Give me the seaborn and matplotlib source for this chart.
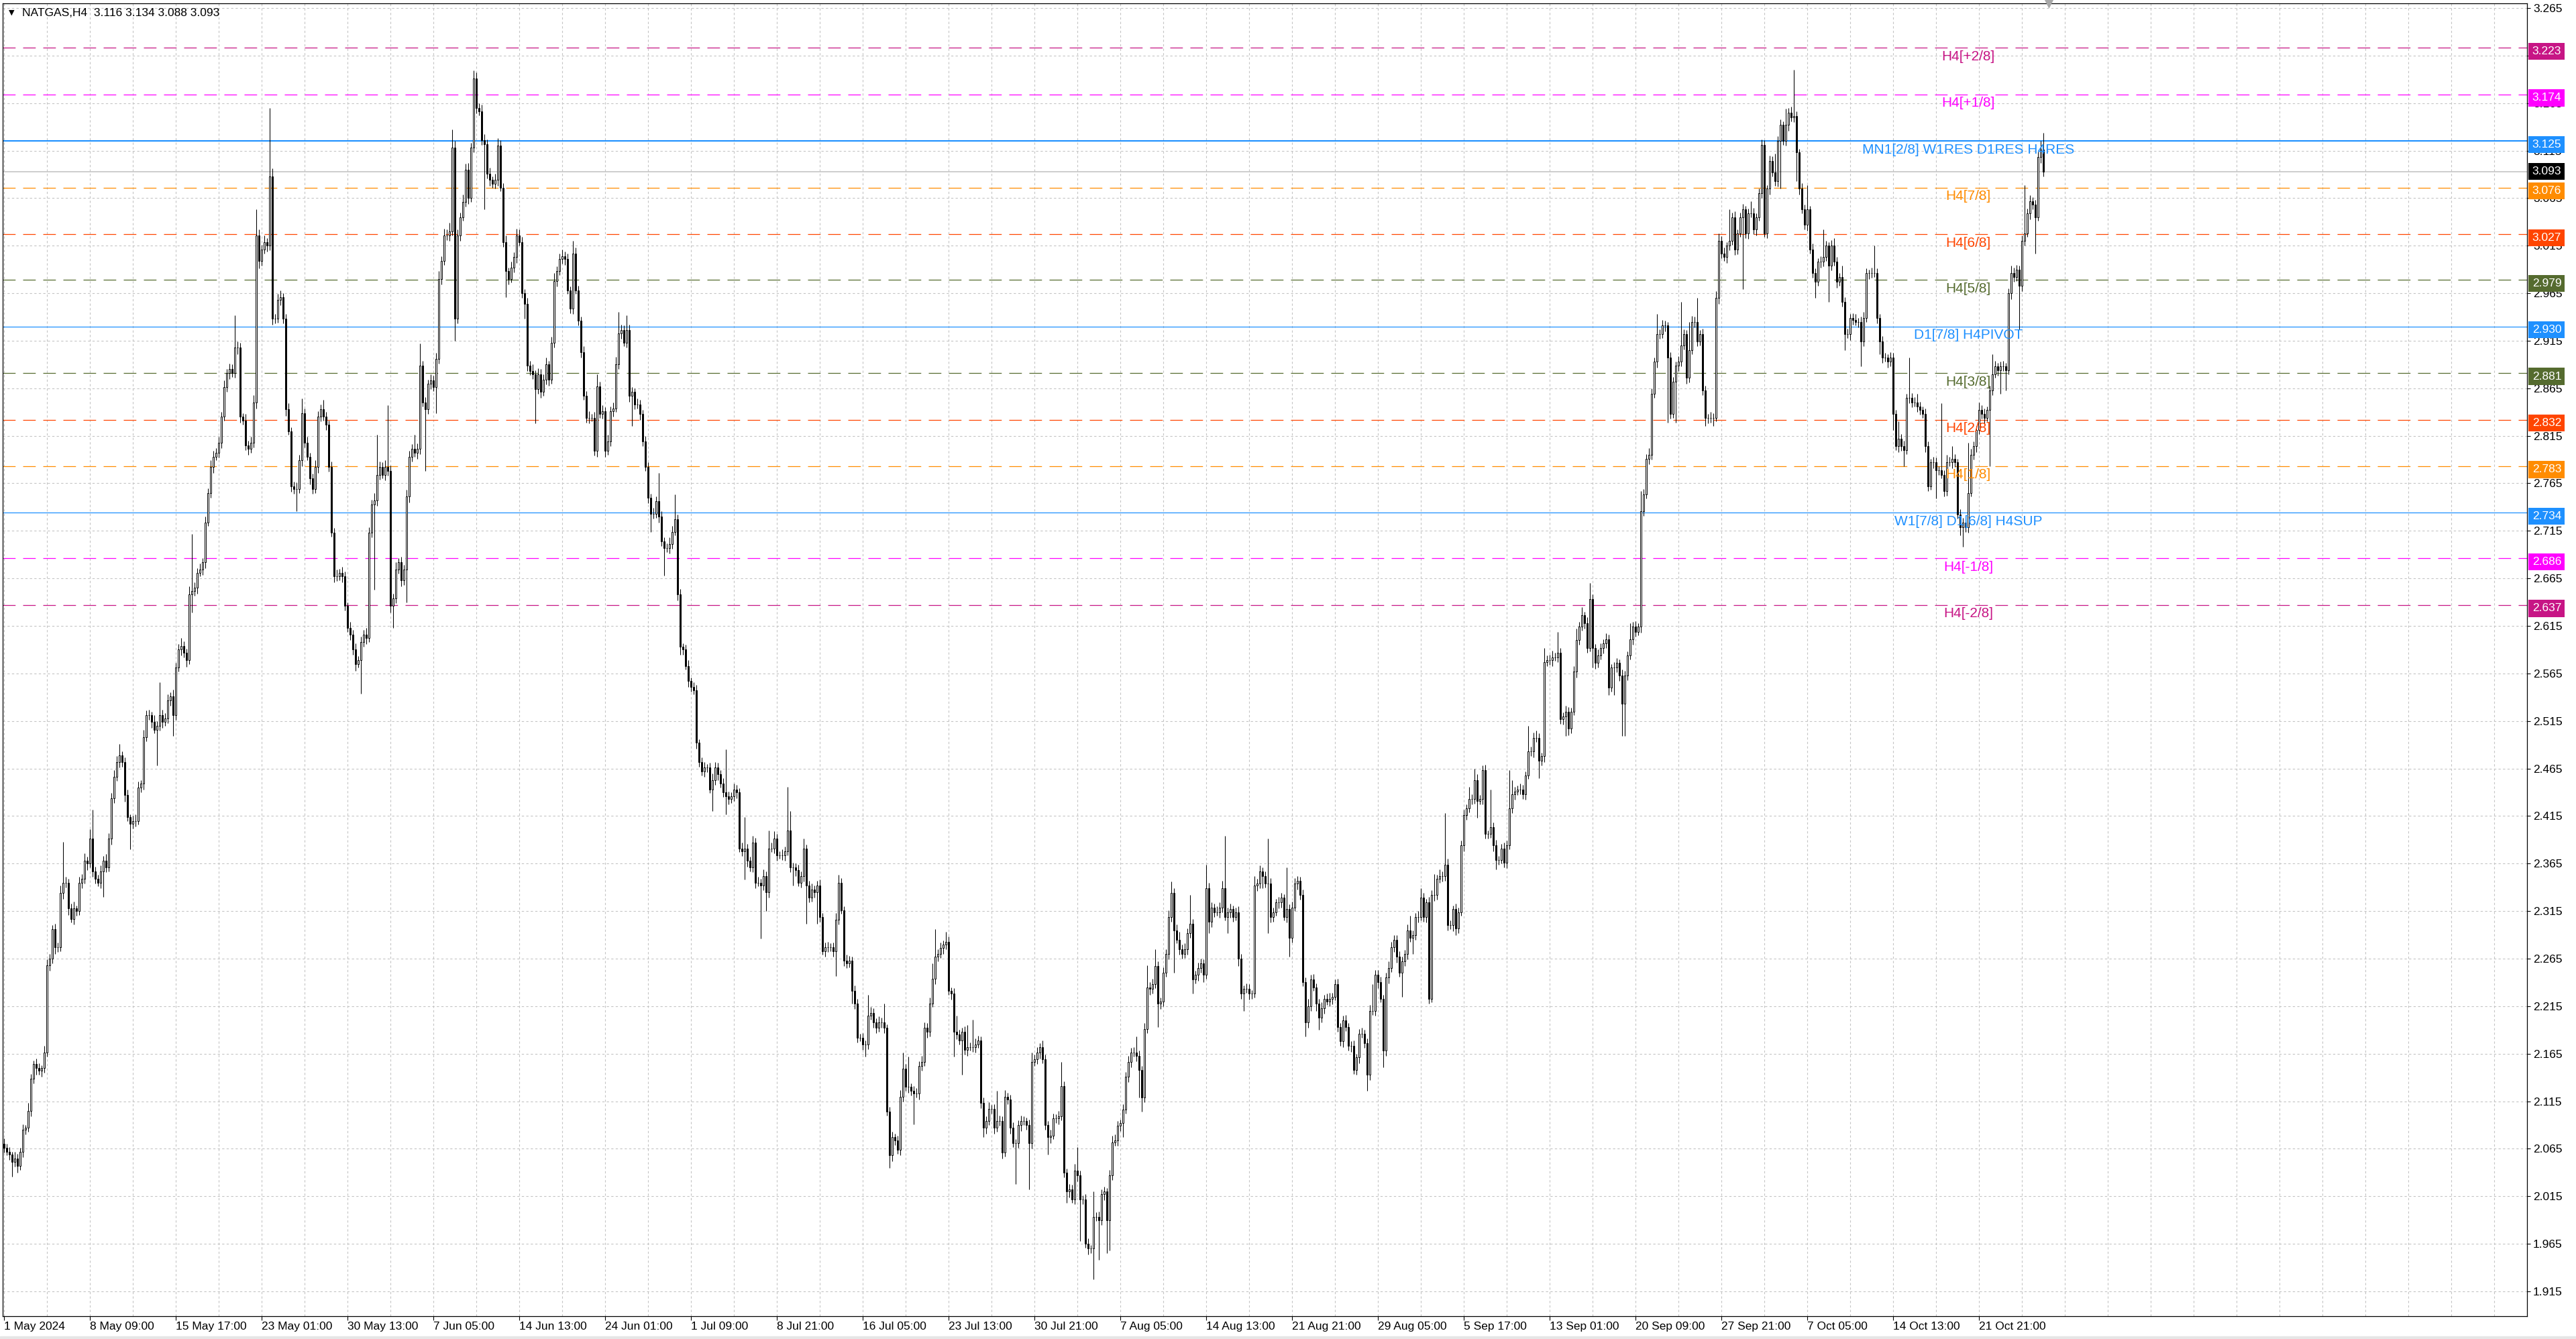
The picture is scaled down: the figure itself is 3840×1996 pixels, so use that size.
import numpy as np
import pandas as pd
import seaborn as sns
import matplotlib.pyplot as plt
import matplotlib.transforms as mtransforms
from matplotlib.patches import Rectangle

# NATGAS H4 closes in thousandths, 1 May 2024 -> 25 Oct 2024 (one value per bar)
close_mils = [
    2066, 2062, 2059, 2051, 2055, 2047, 2062, 2085, 2087, 2105, 2139, 2154, 2150, 2147, 2150, 2166, 2258, 2265, 2296, 2277,
    2277, 2334, 2345, 2345, 2318, 2307, 2318, 2315, 2345, 2349, 2368, 2365, 2391, 2357, 2349, 2345, 2357, 2368, 2361, 2391,
    2434, 2456, 2472, 2479, 2472, 2437, 2414, 2407, 2410, 2410, 2445, 2449, 2498, 2521, 2521, 2514, 2506, 2510, 2521, 2514,
    2518, 2537, 2541, 2521, 2571, 2590, 2594, 2587, 2579, 2648, 2652, 2655, 2671, 2674, 2682, 2724, 2755, 2782, 2793, 2797,
    2808, 2835, 2866, 2881, 2885, 2881, 2908, 2908, 2835, 2831, 2805, 2801, 2808, 2850, 3026, 2999, 3011, 3019, 3015, 3088,
    2938, 2938, 2958, 2961, 2938, 2843, 2820, 2762, 2759, 2759, 2789, 2839, 2808, 2793, 2770, 2759, 2782, 2835, 2843, 2835,
    2827, 2782, 2713, 2667, 2667, 2671, 2667, 2636, 2613, 2606, 2590, 2575, 2579, 2598, 2606, 2602, 2713, 2743, 2747, 2774,
    2782, 2774, 2782, 2778, 2636, 2644, 2674, 2682, 2663, 2674, 2751, 2793, 2801, 2797, 2801, 2889, 2850, 2843, 2870, 2873,
    2866, 2896, 2980, 2999, 3026, 3026, 3030, 3118, 2938, 3026, 3045, 3061, 3095, 3065, 3118, 3191, 3160, 3156, 3126, 3122,
    3091, 3084, 3080, 3084, 3120, 3076, 3019, 2988, 2980, 2992, 3003, 3026, 3019, 2965, 2954, 2889, 2883, 2880, 2864, 2880,
    2861, 2874, 2890, 2874, 2913, 2978, 2988, 3001, 3004, 3001, 2968, 2949, 3007, 2968, 2936, 2903, 2857, 2834, 2834, 2834,
    2799, 2867, 2838, 2841, 2799, 2809, 2841, 2844, 2890, 2923, 2926, 2913, 2926, 2857, 2861, 2848, 2848, 2838, 2809, 2782,
    2750, 2733, 2733, 2746, 2730, 2704, 2697, 2697, 2701, 2714, 2727, 2648, 2593, 2590, 2573, 2557, 2551, 2547, 2492, 2472,
    2462, 2466, 2466, 2443, 2453, 2466, 2459, 2449, 2440, 2436, 2433, 2436, 2443, 2440, 2381, 2378, 2381, 2368, 2361, 2387,
    2345, 2345, 2342, 2352, 2335, 2381, 2381, 2391, 2374, 2374, 2374, 2378, 2400, 2361, 2361, 2358, 2345, 2352, 2381, 2342,
    2329, 2338, 2335, 2342, 2309, 2273, 2277, 2277, 2277, 2273, 2306, 2345, 2316, 2263, 2260, 2263, 2231, 2218, 2182, 2182,
    2175, 2175, 2205, 2208, 2198, 2192, 2198, 2198, 2192, 2104, 2058, 2077, 2074, 2064, 2120, 2149, 2130, 2130, 2126, 2123,
    2123, 2152, 2156, 2192, 2188, 2218, 2244, 2267, 2270, 2276, 2280, 2283, 2231, 2228, 2188, 2185, 2179, 2188, 2169, 2172,
    2172, 2172, 2175, 2179, 2113, 2087, 2094, 2107, 2107, 2087, 2094, 2094, 2061, 2120, 2117, 2087, 2071, 2071, 2090, 2094,
    2094, 2090, 2071, 2156, 2159, 2166, 2172, 2159, 2090, 2077, 2079, 2097, 2097, 2099, 2131, 2040, 2020, 2022, 2012, 2042,
    2037, 2012, 2012, 1965, 1960, 1960, 1993, 1993, 1990, 2017, 2020, 1990, 2037, 2072, 2074, 2089, 2092, 2106, 2141, 2156,
    2166, 2166, 2163, 2148, 2119, 2191, 2235, 2233, 2238, 2257, 2218, 2220, 2250, 2270, 2309, 2334, 2295, 2285, 2275, 2270,
    2275, 2292, 2302, 2243, 2248, 2255, 2260, 2248, 2339, 2304, 2319, 2314, 2314, 2319, 2339, 2309, 2314, 2317, 2309, 2314,
    2265, 2228, 2233, 2233, 2228, 2228, 2342, 2344, 2357, 2352, 2344, 2344, 2309, 2314, 2324, 2324, 2329, 2309, 2317, 2287,
    2319, 2344, 2347, 2332, 2240, 2198, 2215, 2243, 2235, 2218, 2203, 2213, 2223, 2220, 2223, 2225, 2238, 2193, 2178, 2200,
    2193, 2173, 2173, 2148, 2161, 2186, 2186, 2176, 2143, 2210, 2210, 2248, 2240, 2223, 2168, 2245, 2255, 2277, 2285, 2267,
    2250, 2262, 2270, 2295, 2287, 2290, 2309, 2309, 2329, 2309, 2324, 2223, 2332, 2332, 2349, 2352, 2352, 2364, 2300, 2300,
    2317, 2297, 2314, 2384, 2416, 2423, 2433, 2433, 2453, 2431, 2433, 2463, 2396, 2396, 2403, 2384, 2369, 2369, 2381, 2366,
    2384, 2423, 2438, 2441, 2443, 2443, 2438, 2458, 2483, 2483, 2497, 2497, 2473, 2478, 2577, 2579, 2579, 2582, 2582, 2587,
    2517, 2520, 2525, 2507, 2525, 2567, 2600, 2614, 2626, 2618, 2592, 2643, 2592, 2576, 2584, 2592, 2597, 2601, 2550, 2571,
    2571, 2576, 2563, 2533, 2563, 2584, 2601, 2614, 2609, 2614, 2736, 2753, 2791, 2795, 2859, 2893, 2922, 2922, 2931, 2931,
    2897, 2838, 2872, 2889, 2893, 2910, 2922, 2876, 2905, 2935, 2935, 2914, 2922, 2863, 2834, 2834, 2834, 2834, 2960, 3020,
    3007, 3003, 3015, 3020, 3045, 3011, 3028, 3045, 3053, 3028, 3049, 3049, 3032, 3045, 3070, 3121, 3028, 3075, 3104, 3092,
    3083, 3125, 3142, 3125, 3142, 3155, 3150, 3151, 3113, 3075, 3053, 3037, 3053, 3011, 2986, 2977, 2998, 2998, 3003, 3015,
    2994, 3015, 2998, 2977, 2982, 2956, 2922, 2922, 2939, 2937, 2935, 2935, 2914, 2939, 2986, 2986, 2986, 2986, 2939, 2914,
    2897, 2897, 2893, 2897, 2838, 2804, 2812, 2804, 2800, 2855, 2855, 2850, 2850, 2846, 2842, 2838, 2804, 2762, 2787, 2787,
    2779, 2779, 2774, 2757, 2787, 2787, 2791, 2787, 2732, 2719, 2724, 2719, 2755, 2795, 2804, 2821, 2842, 2838, 2834, 2842,
    2863, 2880, 2888, 2884, 2888, 2888, 2884, 2965, 2986, 2982, 2990, 2973, 3020, 3028, 3049, 3062, 3058, 3045, 3108, 3116,
    3093,
]

# upper / lower shadow length of each bar, thousandths
wick_up_mils = [
    6, 4, 5, 3, 7, 5, 4, 6, 3, 8, 5, 4, 6, 5, 3, 7, 6, 5, 4, 6,
    5, 8, 43, 6, 4, 5, 7, 3, 6, 5, 8, 4, 10, 31, 5, 4, 6, 5, 7, 6,
    5, 7, 6, 12, 4, 5, 6, 3, 5, 7, 6, 4, 8, 5, 6, 4, 7, 5, 35, 6,
    5, 6, 4, 7, 5, 6, 8, 5, 4, 9, 60, 6, 5, 7, 4, 6, 5, 7, 6, 5,
    6, 5, 7, 4, 6, 5, 34, 6, 5, 4, 7, 5, 6, 8, 27, 6, 5, 7, 4, 72,
    8, 5, 6, 7, 4, 5, 6, 4, 5, 7, 6, 15, 5, 6, 4, 5, 7, 6, 5, 10,
    5, 4, 6, 5, 7, 4, 6, 5, 4, 6, 5, 7, 4, 6, 5, 7, 6, 5, 8, 42,
    6, 5, 7, 65, 6, 5, 8, 4, 6, 5, 7, 6, 5, 15, 6, 23, 5, 6, 4, 7,
    5, 6, 8, 5, 7, 6, 9, 19, 7, 6, 5, 8, 6, 7, 5, 8, 6, 5, 7, 6,
    5, 6, 4, 7, 8, 6, 5, 7, 4, 6, 5, 7, 6, 5, 4, 6, 5, 7, 4, 6,
    5, 6, 7, 4, 6, 8, 5, 6, 7, 5, 6, 4, 13, 6, 5, 4, 6, 5, 7, 4,
    6, 13, 5, 6, 4, 7, 5, 6, 8, 22, 6, 5, 16, 6, 5, 4, 6, 5, 4, 6,
    5, 4, 6, 5, 30, 6, 4, 5, 7, 6, 26, 5, 6, 4, 5, 6, 4, 5, 6, 4,
    5, 6, 4, 5, 7, 6, 5, 4, 6, 45, 5, 4, 6, 5, 4, 6, 33, 5, 4, 7,
    5, 6, 4, 7, 5, 19, 6, 8, 5, 4, 6, 5, 46, 20, 5, 4, 6, 5, 10, 4,
    5, 6, 4, 5, 6, 4, 5, 6, 4, 5, 7, 8, 5, 4, 6, 5, 4, 6, 5, 4,
    5, 4, 22, 6, 5, 4, 6, 5, 20, 4, 5, 6, 4, 5, 7, 17, 5, 32, 4, 5,
    6, 5, 7, 6, 5, 6, 16, 29, 5, 6, 4, 10, 5, 4, 6, 17, 5, 4, 6, 23,
    5, 29, 6, 5, 4, 6, 5, 7, 4, 5, 32, 6, 5, 7, 4, 5, 6, 4, 5, 6,
    5, 4, 6, 10, 5, 6, 4, 7, 5, 4, 6, 5, 4, 6, 25, 5, 4, 6, 5, 7,
    25, 5, 4, 5, 6, 4, 27, 5, 6, 5, 5, 4, 6, 7, 6, 5, 4, 6, 5, 7,
    5, 6, 17, 5, 4, 6, 23, 5, 6, 18, 5, 4, 6, 5, 7, 12, 5, 6, 8, 5,
    6, 5, 30, 5, 4, 6, 5, 4, 25, 6, 5, 4, 6, 5, 8, 55, 5, 6, 4, 5,
    6, 5, 4, 6, 5, 4, 10, 5, 6, 4, 5, 47, 6, 5, 4, 6, 5, 4, 44, 5,
    6, 6, 5, 4, 6, 5, 8, 5, 6, 4, 5, 6, 4, 5, 6, 4, 5, 6, 4, 5,
    6, 4, 5, 6, 4, 5, 6, 4, 5, 6, 28, 5, 5, 6, 4, 5, 7, 6, 5, 5,
    6, 5, 4, 6, 15, 5, 4, 6, 10, 5, 4, 6, 5, 22, 4, 7, 5, 54, 6, 5,
    4, 6, 5, 5, 6, 4, 13, 5, 12, 6, 4, 5, 6, 4, 40, 5, 6, 4, 5, 6,
    5, 40, 15, 5, 4, 6, 5, 4, 27, 5, 6, 8, 5, 4, 15, 5, 6, 7, 5, 22,
    5, 4, 6, 5, 4, 6, 12, 5, 9, 4, 6, 17, 5, 4, 6, 5, 4, 6, 5, 4,
    6, 5, 4, 6, 5, 4, 17, 5, 6, 4, 21, 6, 5, 7, 6, 4, 21, 5, 6, 5,
    4, 6, 5, 4, 6, 46, 5, 4, 30, 6, 5, 25, 4, 6, 5, 4, 6, 5, 7, 8,
    5, 6, 4, 33, 5, 6, 4, 5, 6, 4, 5, 13, 6, 4, 5, 6, 5, 4, 6, 5,
    20, 5, 6, 4, 17, 5, 6, 49, 5, 4, 6, 5, 26, 4, 6, 5, 4, 6, 29, 5,
    4, 6, 8, 5, 4, 12, 5, 6, 4, 5, 6, 4, 5, 6, 5, 4, 6, 29, 5, 4,
    6, 5, 4, 6, 5, 4, 18, 5, 6, 4, 42, 5, 6, 9, 5, 4, 6, 5, 4, 6,
    5, 4, 70, 5, 8, 6, 13, 5, 4, 6, 5, 4, 53, 6, 5, 4, 8, 5, 6, 4,
    5, 21, 6, 4, 5, 6, 4, 5, 8, 6, 5, 4, 6, 51, 5, 6, 4, 5, 6, 9,
    18,
]

wick_dn_mils = [
    5, 4, 6, 15, 5, 7, 4, 6, 5, 4, 6, 5, 7, 4, 6, 5, 4, 6, 5, 7,
    5, 4, 6, 5, 7, 4, 6, 5, 4, 6, 5, 7, 4, 6, 5, 4, 6, 27, 5, 4,
    6, 5, 4, 6, 5, 7, 4, 27, 5, 6, 4, 5, 6, 4, 5, 6, 4, 38, 5, 6,
    4, 5, 6, 22, 5, 4, 6, 5, 7, 4, 19, 5, 6, 4, 5, 6, 4, 5, 6, 4,
    5, 6, 4, 5, 6, 4, 5, 7, 6, 4, 5, 6, 4, 5, 6, 8, 5, 4, 6, 5,
    6, 5, 4, 6, 5, 7, 4, 6, 5, 23, 4, 6, 5, 4, 6, 5, 4, 6, 5, 4,
    6, 5, 4, 6, 5, 4, 6, 5, 4, 6, 5, 7, 4, 35, 5, 6, 4, 5, 90, 6,
    5, 4, 6, 5, 7, 23, 5, 4, 6, 5, 34, 6, 5, 4, 6, 5, 4, 65, 5, 6,
    4, 27, 5, 6, 4, 5, 6, 4, 23, 5, 6, 4, 5, 6, 4, 5, 6, 4, 5, 69,
    5, 6, 4, 5, 6, 4, 5, 27, 6, 4, 5, 6, 4, 5, 16, 6, 4, 5, 36, 5,
    6, 4, 5, 6, 4, 5, 6, 4, 5, 6, 4, 5, 6, 4, 5, 6, 4, 5, 6, 4,
    5, 6, 4, 5, 6, 4, 5, 6, 4, 5, 6, 4, 5, 6, 32, 5, 4, 6, 5, 4,
    6, 19, 5, 4, 6, 5, 29, 4, 6, 5, 4, 6, 8, 5, 4, 6, 5, 4, 6, 5,
    4, 6, 5, 4, 23, 5, 6, 4, 5, 19, 6, 4, 5, 6, 4, 5, 30, 6, 4, 5,
    6, 4, 56, 5, 20, 6, 4, 5, 6, 4, 5, 6, 4, 5, 19, 6, 4, 5, 6, 40,
    5, 4, 6, 33, 5, 4, 6, 5, 4, 6, 26, 5, 4, 6, 5, 4, 13, 6, 5, 4,
    6, 13, 5, 4, 6, 5, 4, 6, 5, 4, 13, 6, 5, 4, 6, 5, 4, 6, 5, 32,
    4, 6, 5, 4, 6, 5, 4, 6, 5, 4, 6, 5, 4, 6, 26, 5, 4, 36, 5, 6,
    4, 5, 6, 4, 5, 10, 6, 4, 5, 6, 4, 5, 6, 4, 5, 6, 4, 43, 5, 6,
    4, 5, 49, 6, 4, 5, 6, 4, 5, 18, 6, 4, 5, 6, 4, 5, 12, 6, 4, 5,
    6, 44, 5, 4, 6, 5, 32, 4, 42, 5, 6, 35, 32, 5, 4, 6, 5, 15, 4, 6,
    5, 4, 6, 29, 15, 5, 4, 6, 5, 4, 25, 6, 5, 4, 6, 5, 45, 4, 6, 5,
    4, 6, 5, 15, 4, 6, 5, 8, 4, 12, 6, 5, 4, 6, 5, 4, 17, 6, 5, 4,
    8, 5, 18, 4, 6, 5, 4, 6, 5, 13, 4, 52, 6, 5, 4, 6, 5, 4, 6, 20,
    5, 4, 6, 5, 4, 15, 6, 5, 4, 8, 13, 5, 6, 4, 5, 6, 4, 5, 5, 6,
    4, 5, 6, 4, 5, 6, 4, 5, 17, 6, 4, 5, 6, 4, 17, 5, 6, 4, 5, 6,
    4, 25, 5, 6, 4, 17, 5, 6, 4, 5, 6, 5, 4, 6, 5, 4, 6, 5, 5, 4,
    6, 7, 5, 4, 6, 5, 4, 6, 5, 18, 4, 6, 5, 5, 4, 6, 10, 5, 4, 5,
    6, 4, 5, 6, 4, 5, 5, 6, 4, 5, 6, 4, 18, 5, 6, 4, 5, 6, 4, 5,
    5, 6, 21, 7, 5, 4, 6, 5, 4, 6, 5, 4, 21, 6, 5, 4, 6, 5, 8, 4,
    29, 5, 6, 34, 34, 5, 4, 6, 5, 4, 6, 5, 4, 6, 5, 4, 6, 5, 4, 6,
    68, 5, 4, 43, 6, 5, 4, 6, 5, 4, 6, 5, 4, 5, 9, 6, 5, 9, 4, 6,
    5, 4, 6, 5, 4, 6, 5, 4, 76, 5, 6, 4, 5, 6, 4, 5, 4, 5, 6, 4,
    5, 6, 50, 4, 5, 6, 4, 5, 30, 6, 4, 5, 6, 4, 5, 17, 4, 6, 5, 4,
    38, 5, 4, 6, 4, 5, 17, 4, 6, 5, 4, 6, 26, 5, 4, 6, 5, 4, 6, 13,
    5, 4, 6, 5, 17, 4, 6, 5, 17, 4, 6, 5, 4, 6, 5, 4, 6, 5, 4, 6,
    30, 5, 4, 6, 5, 4, 6, 5, 4, 9, 21, 5, 6, 4, 5, 6, 4, 5, 6, 4,
    59, 5, 4, 6, 25, 5, 21, 4, 6, 5, 4, 46, 6, 5, 4, 6, 5, 38, 4, 6,
    5,
]

first_open = 2.070
bid_price = 3.093
header_text = "NATGAS,H4  3.116 3.134 3.088 3.093"

# Murrey-style levels drawn on the chart
level_prices = [3.223, 3.174, 3.125, 3.076, 3.027, 2.979, 2.930, 2.881, 2.832, 2.783, 2.734, 2.686, 2.637]
level_names = ["H4[+2/8]", "H4[+1/8]", "MN1[2/8] W1RES D1RES H4RES", "H4[7/8]", "H4[6/8]", "H4[5/8]",
               "D1[7/8] H4PIVOT", "H4[3/8]", "H4[2/8]", "H4[1/8]", "W1[7/8] D1[6/8] H4SUP",
               "H4[-1/8]", "H4[-2/8]"]
level_colors = ["#C71585", "#FF00FF", "#1E90FF", "#FF8C00", "#FF4500", "#556B2F", "#1E90FF",
                "#556B2F", "#FF4500", "#FF8C00", "#1E90FF", "#FF00FF", "#C71585"]
level_solid = [False, False, True, False, False, False, True, False, False, False, True, False, False]

date_labels = ["1 May 2024", "8 May 09:00", "15 May 17:00", "23 May 01:00", "30 May 13:00", "7 Jun 05:00",
               "14 Jun 13:00", "24 Jun 01:00", "1 Jul 09:00", "8 Jul 21:00", "16 Jul 05:00", "23 Jul 13:00",
               "30 Jul 21:00", "7 Aug 05:00", "14 Aug 13:00", "21 Aug 21:00", "29 Aug 05:00", "5 Sep 17:00",
               "13 Sep 01:00", "20 Sep 09:00", "27 Sep 21:00", "7 Oct 05:00", "14 Oct 13:00", "21 Oct 21:00"]
bars_per_label = 32

# ---- build OHLC table ----
n = min(len(close_mils), len(wick_up_mils), len(wick_dn_mils))
close = np.array(close_mils[:n]) / 1000.0
open_ = np.concatenate([[first_open], close[:-1]])
body_top = np.maximum(open_, close)
body_bot = np.minimum(open_, close)
df = pd.DataFrame({
    "bar": np.arange(n),
    "open": open_,
    "close": close,
    "high": body_top + np.array(wick_up_mils[:n]) / 1000.0,
    "low": body_bot - np.array(wick_dn_mils[:n]) / 1000.0,
})
df["bull"] = df["close"] >= df["open"]

# ---- figure ----
sns.set_theme(style="white")
plt.rcParams["font.family"] = ["Liberation Sans", "DejaVu Sans"]

W, H = 3840, 1996
px_left, px_right, px_top, px_bottom = 4, 3767, 5, 1962
fig = plt.figure(figsize=(W / 100, H / 100), dpi=100)
fig.patch.set_facecolor("white")
ax = fig.add_axes([px_left / W, 1 - px_bottom / H, (px_right - px_left) / W, (px_bottom - px_top) / H])
ax.set_facecolor("white")

ax.set_xlim(-0.5, (px_right - 6) / 4)
ax.set_ylim(1.8889, 3.2699)

# grid
yticks = np.round(np.arange(1.915, 3.2651, 0.05), 3)
ax.set_yticks(yticks)
ax.set_yticklabels([f"{v:.3f}" for v in yticks])
major_x = [i * bars_per_label for i in range(len(date_labels))]
ax.set_xticks(major_x)
ax.set_xticklabels(date_labels)
minor_x = [k * 16 for k in range(1, 59) if k * 16 not in major_x]
ax.set_xticks(minor_x, minor=True)
grid_kw = dict(color="#c4c4c4", linestyle=(0, (3, 3)), linewidth=0.8)
ax.grid(True, axis="y", which="major", **grid_kw)
ax.grid(True, axis="x", which="both", **grid_kw)
ax.set_axisbelow(True)

# level lines
for price, col, solid in zip(level_prices, level_colors, level_solid):
    if solid:
        lw = 1.5 if price > 3.1 else 0.9
        ax.axhline(price, color=col, linewidth=lw, zorder=1.5)
    else:
        ax.axhline(price, color=col, linewidth=0.9, linestyle=(0, (15, 9)), zorder=1.5)
ax.axhline(bid_price, color="#c0c0c0", linewidth=1.1, zorder=1.5)

# candles
ax.vlines(df["bar"], df["low"], df["high"], color="black", linewidth=0.75, zorder=2)
bull = df[df["bull"]]
bear = df[~df["bull"]]
ax.bar(bull["bar"], bull["close"] - bull["open"], bottom=bull["open"], width=0.62,
       color="white", edgecolor="black", linewidth=0.7, zorder=3)
ax.bar(bear["bar"], bear["open"] - bear["close"], bottom=bear["close"], width=0.62,
       color="black", edgecolor="black", linewidth=0.7, zorder=3)

# level captions
for price, name, col in zip(level_prices, level_names, level_colors):
    ax.annotate(name, xy=(732, price), xytext=(0, -2.5), textcoords="offset points",
                ha="center", va="top", color=col, fontsize=15, zorder=6)

# price tags on the right scale (level tags sit a little under their line)
blend = mtransforms.blended_transform_factory(ax.transAxes, ax.transData)
for price, col in zip(level_prices, level_colors):
    ax.annotate(f"{price:.3f}", xy=(1, price), xycoords=blend, xytext=(5.5, -3.6),
                textcoords="offset points", ha="left", va="center", color="white",
                fontsize=12.5, annotation_clip=False, zorder=10,
                bbox=dict(boxstyle="square,pad=0.3", fc=col, ec="none"))
ax.annotate(f"{bid_price:.3f}", xy=(1, bid_price), xycoords=blend, xytext=(5.5, 0),
            textcoords="offset points", ha="left", va="center", color="white",
            fontsize=12.5, annotation_clip=False, zorder=11,
            bbox=dict(boxstyle="square,pad=0.3", fc="black", ec="none"))

# axes styling
ax.yaxis.tick_right()
ax.tick_params(axis="y", which="major", length=3.5, width=0.8, pad=3, labelsize=12.5,
               colors="black", right=True, left=False)
ax.tick_params(axis="x", which="major", length=4, width=0.8, pad=2, labelsize=12.5,
               colors="black", bottom=True)
ax.tick_params(axis="x", which="minor", length=0)
for lab in ax.get_xticklabels():
    lab.set_horizontalalignment("left")
for side in ["left", "right", "top", "bottom"]:
    ax.spines[side].set_color("black")
    ax.spines[side].set_linewidth(0.9)

# header
ax.text(9 / (px_right - px_left), 1 - 14 / (px_bottom - px_top), "\u25bc", transform=ax.transAxes,
        fontsize=8, va="center", ha="left", color="black", family=["DejaVu Sans"])
ax.text(29 / (px_right - px_left), 1 - 14 / (px_bottom - px_top), header_text, transform=ax.transAxes,
        fontsize=12.5, va="center", ha="left", color="black")

# chart shift marker at top
ax.plot([762], [3.2699], marker="v", color="#a8a8a8", markersize=8, clip_on=False, zorder=4)

fig.add_artist(Rectangle((0, 0), 1, 4 / H, transform=fig.transFigure, color="#e6e6e6", zorder=0))

fig.savefig("out.png", dpi=100)
